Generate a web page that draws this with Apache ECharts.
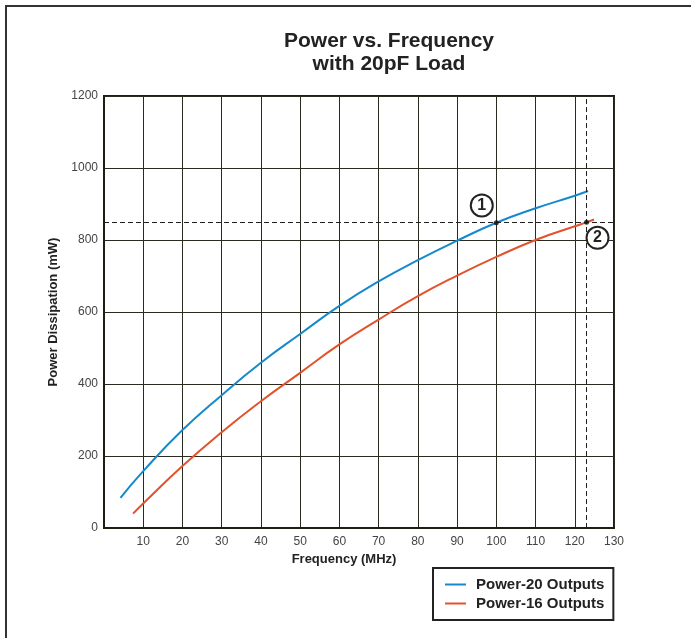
<!DOCTYPE html>
<html>
<head>
<meta charset="utf-8">
<script src="https://cdn.jsdelivr.net/npm/echarts@6/dist/echarts.min.js"></script>
<style>
html,body{margin:0;padding:0;background:#fff;}
#chart{width:691px;height:638px;}
</style>
</head>
<body>
<div id="chart"></div>
<script>
// ---- data ----
const xTicks = [10, 20, 30, 40, 50, 60, 70, 80, 90, 100, 110, 120, 130];
const yTicks = [0, 200, 400, 600, 800, 1000, 1200];

const power20Freq  = [4.2, 10, 20, 30, 40, 50, 60, 70, 80, 90, 100, 110, 120, 123.4];
const power20Value = [84, 158, 272, 369, 459, 539, 617, 685, 744, 798, 848, 888, 923, 936];

const power16Freq  = [7.4, 10, 20, 30, 40, 50, 60, 70, 80, 90, 100, 110, 120, 123, 124.9];
const power16Value = [40, 68, 172, 266, 352, 431, 510, 579, 644, 701, 753, 800, 838, 849, 857];

const markerFreq  = [100, 123];
const markerPower = [848, 849];
const refLinePower = 849;
const refLineFreq = 123;

const calloutFreq   = [96.3, 125.8];
const calloutPower  = [896, 806];
const calloutLabels = ['1', '2'];

const seriesNames = ['Power-20 Outputs', 'Power-16 Outputs'];
const seriesColors = ['#1689ca', '#e2532b'];

// ---- build ----
const zip = (a, b) => a.map((v, i) => [v, b[i]]);
const FONT = "'Liberation Sans', Arial, sans-serif";
const gridColor = '#2a2a1e';

const chart = echarts.init(document.getElementById('chart'), null, {renderer: 'canvas'});
chart.setOption({
  animation: false,
  backgroundColor: '#fff',
  textStyle: {fontFamily: FONT},
  graphic: [{
    type: 'rect', z: -10, silent: true,
    shape: {x: 6, y: 6, width: 720, height: 700},
    style: {fill: null, stroke: '#333', lineWidth: 2}
  }],
  title: {
    text: 'Power vs. Frequency\nwith 20pF Load',
    left: 389, top: 29, textAlign: 'center', padding: 0,
    textStyle: {fontFamily: FONT, fontSize: 21, fontWeight: 'bold', color: '#222', lineHeight: 23.5}
  },
  legend: {
    data: seriesNames,
    orient: 'vertical',
    left: 433, top: 568,
    backgroundColor: '#fff',
    borderColor: '#222', borderWidth: 2, borderRadius: 0,
    padding: [9, 9, 9, 12],
    itemGap: 4, itemWidth: 21, itemHeight: 2,
    icon: 'rect',
    textStyle: {fontFamily: FONT, fontSize: 15, fontWeight: 'bold', color: '#222', padding: [0, 0, 0, 5]}
  },
  grid: {
    left: 104, right: 77, top: 96, bottom: 110,
    show: true, borderColor: '#1e1e10', borderWidth: 2, backgroundColor: '#fff'
  },
  xAxis: {
    type: 'value', min: 0, max: 130, interval: 10,
    name: 'Frequency (MHz)', nameLocation: 'middle', nameGap: 22,
    nameTextStyle: {fontFamily: FONT, fontSize: 13, fontWeight: 'bold', color: '#222', padding: [0, 30, 0, 0]},
    axisLine: {show: true, lineStyle: {color: '#1e1e10', width: 2}},
    axisTick: {show: false},
    axisLabel: {
      color: '#444', fontSize: 12, fontFamily: FONT, margin: 8,
      formatter: v => (xTicks.indexOf(v) >= 0 ? String(v) : '')
    },
    splitLine: {show: true, lineStyle: {color: gridColor, width: 1}}
  },
  yAxis: {
    type: 'value', min: 0, max: 1200, interval: 200,
    name: 'Power Dissipation (mW)', nameLocation: 'middle', nameGap: 41,
    nameTextStyle: {fontFamily: FONT, fontSize: 13, fontWeight: 'bold', color: '#222'},
    axisLine: {show: true, lineStyle: {color: '#1e1e10', width: 2}},
    axisTick: {show: false},
    axisLabel: {
      color: '#444', fontSize: 12, fontFamily: FONT, margin: 6,
      formatter: v => (yTicks.indexOf(v) >= 0 ? String(v) : '')
    },
    splitLine: {show: true, lineStyle: {color: gridColor, width: 1}}
  },
  series: [
    {
      name: seriesNames[0], type: 'line', data: zip(power20Freq, power20Value),
      smooth: 0.5, showSymbol: false, symbol: 'none',
      lineStyle: {color: seriesColors[0], width: 2}, itemStyle: {color: seriesColors[0]}, z: 3
    },
    {
      name: seriesNames[1], type: 'line', data: zip(power16Freq, power16Value),
      smooth: 0.5, showSymbol: false, symbol: 'none',
      lineStyle: {color: seriesColors[1], width: 2}, itemStyle: {color: seriesColors[1]}, z: 3
    },
    {
      name: 'markers', type: 'scatter', data: zip(markerFreq, markerPower),
      symbolSize: 5, itemStyle: {color: '#111'}, z: 5, silent: true,
      markLine: {
        silent: true, symbol: 'none', label: {show: false},
        lineStyle: {color: '#222', width: 1, type: [5, 3]},
        data: [{yAxis: refLinePower}, {xAxis: refLineFreq}]
      }
    },
    {
      name: 'callouts', type: 'scatter',
      data: calloutFreq.map((f, i) => ({value: [f, calloutPower[i]], name: calloutLabels[i]})),
      symbol: 'circle', symbolSize: 22, z: 6, silent: true,
      itemStyle: {color: '#fff', borderColor: '#222', borderWidth: 2, opacity: 1},
      label: {show: true, position: 'inside', formatter: p => p.name,
        fontFamily: FONT, fontSize: 16, fontWeight: 'bold', color: '#222'}
    }
  ]
});
</script>
</body>
</html>
